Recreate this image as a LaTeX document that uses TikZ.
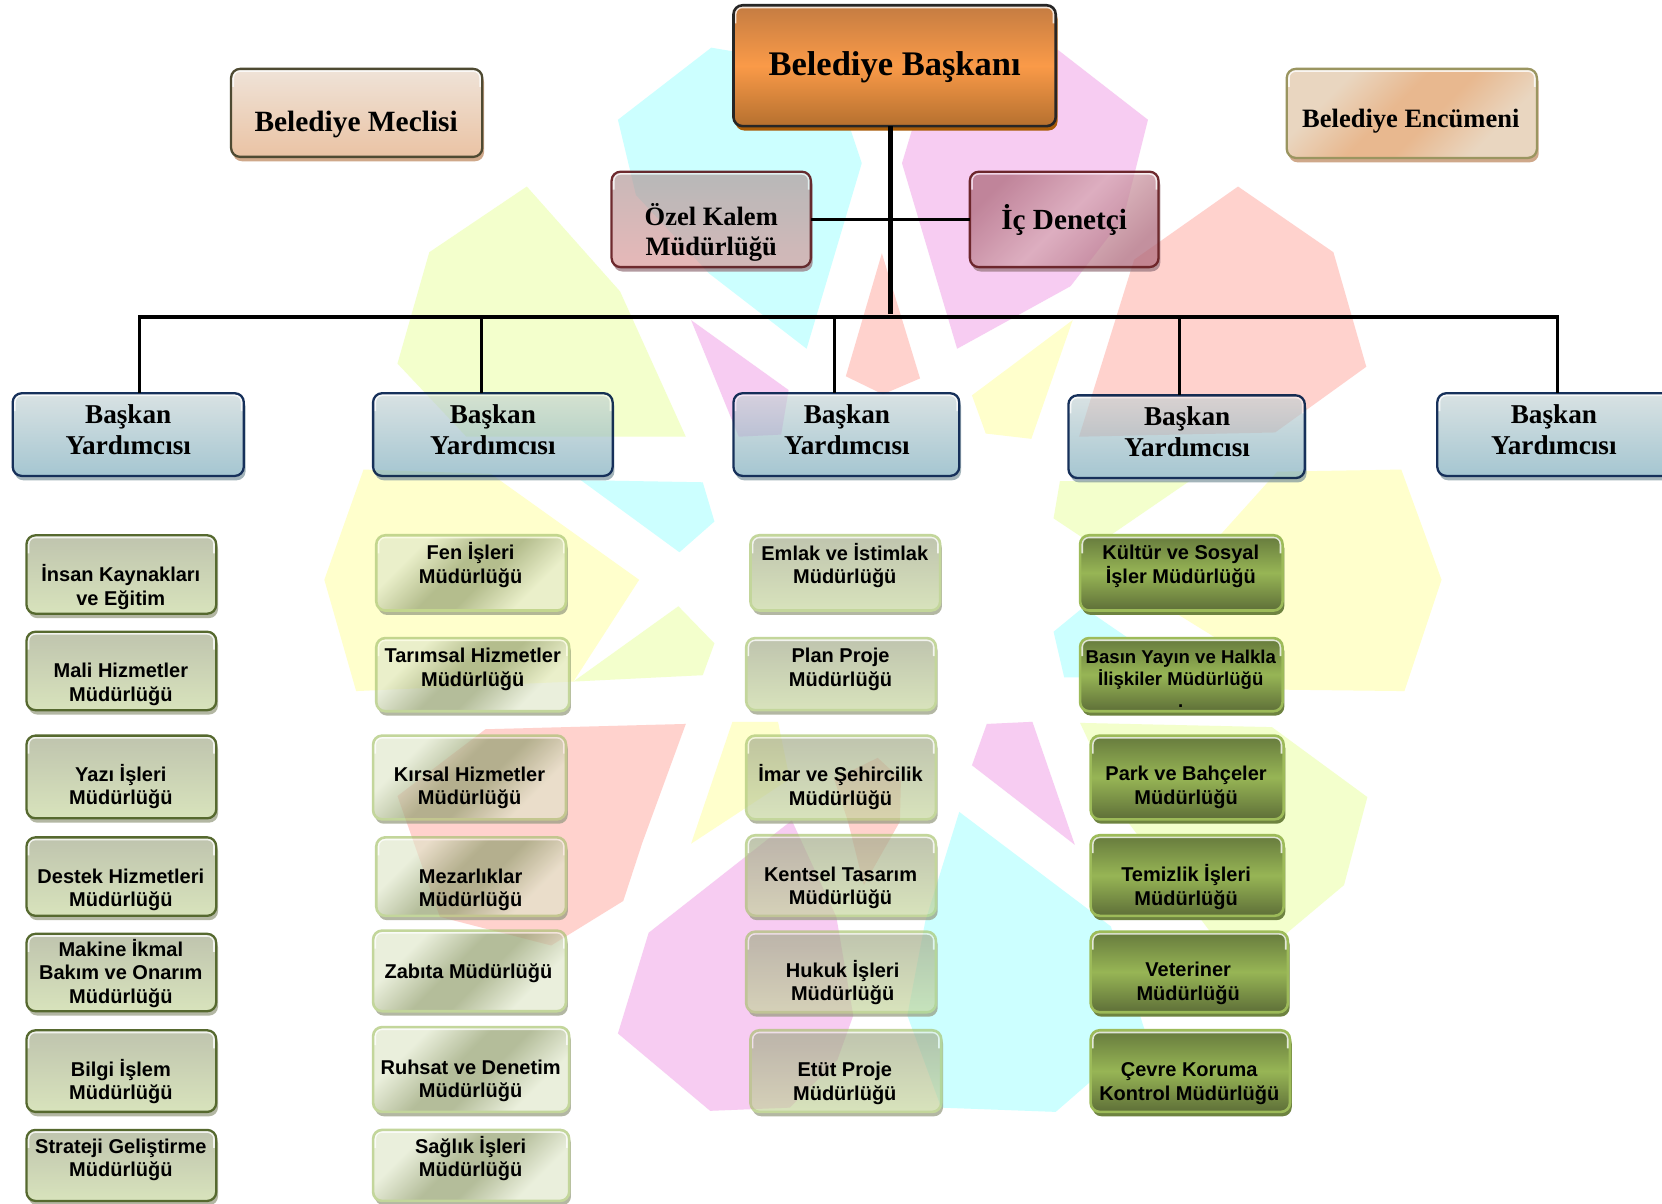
\documentclass[tikz,border=0pt]{standalone}
\usepackage{fontspec}
\setmainfont{Liberation Serif}
\setsansfont{Liberation Sans}
\usetikzlibrary{shadows}
\definecolor{bgcyan}{HTML}{CCFFFF}
\definecolor{bgpink}{HTML}{F8CCF3}
\definecolor{bgred}{HTML}{FFD2CE}
\definecolor{bgyel}{HTML}{FFFFCC}
\definecolor{bglime}{HTML}{F4FFCC}
\definecolor{cBA}{HTML}{C47C42}\definecolor{cBB}{HTML}{FA9A48}\definecolor{cBC}{HTML}{B5702F}\definecolor{cBS}{HTML}{A85C08}
\definecolor{cMD}{HTML}{4E4A32}\definecolor{cMA}{HTML}{EFE3D8}\definecolor{cMB}{HTML}{EAC3A4}\definecolor{cMS}{HTML}{CFA88A}
\definecolor{cED}{HTML}{9A9560}\definecolor{cEA}{HTML}{E9D6C0}\definecolor{cEB}{HTML}{E8B88F}
\definecolor{cKD}{HTML}{6E2A2E}\definecolor{cKA}{HTML}{C8B8B8}\definecolor{cKB}{HTML}{E6B8B8}\definecolor{cKS}{HTML}{B39AA0}
\definecolor{cDA}{HTML}{E0BEC4}\definecolor{cDB}{HTML}{C3909E}
\definecolor{cYD}{HTML}{16305A}\definecolor{cYA}{HTML}{D9E2E3}\definecolor{cYB}{HTML}{A5C6D1}\definecolor{cYS}{HTML}{A3B4BA}
\definecolor{cOD}{HTML}{56692F}\definecolor{cOA}{HTML}{BFC4AE}\definecolor{cOB}{HTML}{D8E3BC}\definecolor{cOS}{HTML}{B3B7A3}
\definecolor{cPD}{HTML}{C3D69B}
\definecolor{cGA}{HTML}{EAEFDC}\definecolor{cGB}{HTML}{B4BD9A}
\definecolor{cVD}{HTML}{9DBB59}\definecolor{cVA}{HTML}{667A3D}\definecolor{cVB}{HTML}{97B555}\definecolor{cVC}{HTML}{5E6F38}\definecolor{cVS}{HTML}{6E8340}
\pgfdeclareverticalshading{diagGreen}{100bp}{color(0bp)=(cGA); color(29bp)=(cGA); color(45bp)=(cGB); color(55bp)=(cGB); color(71bp)=(cGA); color(100bp)=(cGA)}
\pgfdeclareverticalshading{diagPeach}{100bp}{color(0bp)=(cEA); color(29bp)=(cEA); color(45bp)=(cEB); color(55bp)=(cEB); color(71bp)=(cEA); color(100bp)=(cEA)}
\tikzset{
  bgshape/.style={draw=none},
  busline/.style={line width=3.7pt,black},
  dropline/.style={line width=3pt,black},
  trunkline/.style={line width=4.4pt,black},
  hilite/.style={path picture={
    \draw[white,line width=2.8pt,opacity=.8,rounded corners=7pt]
      ([xshift=1.6pt,yshift=-18pt]path picture bounding box.north west)
      -- ([xshift=1.6pt,yshift=-1.6pt]path picture bounding box.north west)
      -- ([xshift=-1.6pt,yshift=-1.6pt]path picture bounding box.north east)
      -- ([xshift=-1.6pt,yshift=-18pt]path picture bounding box.north east);}},
  boxbase/.style={rectangle,rounded corners=9pt,inner sep=0pt,outer sep=0pt,text=black,hilite},
  offset shadow/.style={general shadow={fill=#1,shadow xshift=1.8pt,shadow yshift=-4.4pt}},
  chiefbox/.style={boxbase,line width=2.6pt,draw=black!85,top color=cBA,bottom color=cBC,middle color=cBB,
    offset shadow=cBS,font=\rmfamily\bfseries\fontsize{34.5}{38}\selectfont},
  councilbox/.style={boxbase,line width=2.3pt,draw=cMD,top color=cMA,bottom color=cMB,offset shadow=cMS,
    font=\rmfamily\bfseries\fontsize{29.4}{33}\selectfont},
  encbox/.style={boxbase,line width=2.3pt,draw=cED,shade,shading=diagPeach,shading angle=45,offset shadow=cMS,
    font=\rmfamily\bfseries\fontsize{26.5}{30}\selectfont},
  kalembox/.style={boxbase,line width=2.3pt,draw=cKD,top color=cKA,bottom color=cKB,offset shadow=cKS,
    font=\rmfamily\bfseries\fontsize{26.5}{30.5}\selectfont},
  denetbox/.style={boxbase,line width=2.3pt,draw=cKD,top color=cDB,bottom color=cDB,middle color=cDA,shading angle=45,offset shadow=cKS,
    font=\rmfamily\bfseries\fontsize{29.2}{34}\selectfont},
  deputybox/.style={boxbase,line width=2.3pt,draw=cYD,top color=cYA,bottom color=cYB,offset shadow=cYS,
    font=\rmfamily\bfseries\fontsize{27.2}{30.7}\selectfont},
  unitfont/.style={font=\sffamily\bfseries\fontsize{20}{23.5}\selectfont},
  oliveedge/.style={boxbase,unitfont,line width=2.3pt,draw=cOD,top color=cOA,bottom color=cOB,offset shadow=cOS},
  paleedge/.style={boxbase,unitfont,line width=2.6pt,draw=cPD,top color=cOA,bottom color=cOB,offset shadow=cOS},
  diagbox/.style={boxbase,unitfont,line width=2.6pt,draw=cPD,shade,shading=diagGreen,shading angle=45,offset shadow=cOS},
  greenbox/.style={boxbase,unitfont,line width=2.6pt,draw=cVD,top color=cVA,bottom color=cVC,middle color=cVB,offset shadow=cVS},
  tightfont/.style={font=\sffamily\bfseries\fontsize{18.6}{21}\selectfont}
}
% name, style, x1, y1, x2, y2, text centre x, text centre y, lines
\newcommand{\bx}[9]{%
  \pgfmathsetmacro{\cxv}{(#3+#5)/2}%
  \pgfmathsetmacro{\cyv}{(#4+#6)/2}%
  \pgfmathsetlengthmacro{\wv}{(#5-#3)*1.05995}%
  \pgfmathsetlengthmacro{\hv}{(#6-#4)*1.05995}%
  \pgfmathsetlengthmacro{\dxv}{2*(#7-(#3+#5)/2)*1.05995}%
  \pgfmathsetlengthmacro{\dyv}{((#3*0+#4+#6)/2-#8)*1.05995}%
  \node[#2,minimum width=\wv,minimum height=\hv] (#1) at (\cxv,\cyv)
    {\raisebox{\dimexpr\dyv-.25em-2.6pt\relax}[0pt][0pt]{\makebox[0pt]{\hspace*{\dxv}\begin{tabular}{@{}c@{}}#9\end{tabular}}}};
}
% #1 is a colour suffix
\newcommand{\bgshapes}[1]{%
\fill[bgshape,fill=bgcyan#1] (671,45)--(583,113)--(600,184)--(669,258)--(761,329)--(813,154)--(803,124)--(790,65)--cycle;
\fill[bgshape,fill=bgpink#1] (998,47)--(1083,113)--(1060,205)--(1010,270)--(903,329)--(851,154)--(860,124)--(880,50)--cycle;
\fill[bgshape,fill=bgred#1] (1168,176)--(1258,238)--(1289,346)--(1203,408)--(1018,412)--(1070,245)--cycle;
\fill[bgshape,fill=bgred#1] (832,239)--(868,357)--(833,372)--(798,355)--cycle;
\fill[bgshape,fill=bgyel#1] (1012,302)--(973,414)--(930,409)--(917,373)--cycle;
\fill[bgshape,fill=bglime#1] (497,176)--(405,238)--(375,343)--(440,412)--(647,412)--(585,275)--cycle;
\fill[bgshape,fill=bgpink#1] (652,302)--(744,368)--(737,410)--(697,412)--cycle;
\fill[bgshape,fill=bgyel#1] (343,443)--(306,547)--(336,652)--(541,643)--(603,547)--(463,447)--cycle;
\fill[bgshape,fill=bglime#1] (640,572)--(674,607)--(663,637)--(541,643)--cycle;
\fill[bgshape,fill=bgcyan#1] (548,453)--(663,455)--(674,492)--(641,521)--cycle;
\fill[bgshape,fill=bgred#1] (458,688)--(647,683)--(606,795)--(588,850)--(520,892)--(415,865)--(375,751)--cycle;
\fill[bgshape,fill=bgyel#1] (691,681)--(734,681)--(745,735)--(652,796)--cycle;
\fill[bgshape,fill=bgred#1] (828,715)--(850,735)--(849,775)--(815,835)--(800,775)--(787,735)--cycle;
\fill[bgshape,fill=bgpink#1] (612,880)--(583,975)--(670,1048)--(745,1045)--(790,1000)--(805,958)--(789,865)--(747,774)--cycle;
\fill[bgshape,fill=bgcyan#1] (905,766)--(1048,874)--(1081,975)--(996,1049)--(888,1045)--(856,958)--(873,869)--cycle;
\fill[bgshape,fill=bgpink#1] (931,683)--(974,681)--(1014,797)--(917,722)--cycle;
\fill[bgshape,fill=bglime#1] (1019,682)--(1200,686)--(1290,752)--(1268,835)--(1212,882)--(1150,890)--(1060,770)--cycle;
\fill[bgshape,fill=bgyel#1] (1205,445)--(1322,443)--(1360,547)--(1325,652)--(1153,650)--(1149,603)--(1107,577)--(1115,545)--cycle;
\fill[bgshape,fill=bglime#1] (1000,454)--(1122,454)--(1033,515)--(994,489)--cycle;
\fill[bgshape,fill=bgcyan#1] (1022,573)--(1120,640)--(1004,639)--(994,596)--cycle;
}
\begin{document}
\begin{tikzpicture}[x=1.05995pt,y=-1.05995pt]
\path[use as bounding box,clip] (0,0) rectangle (1568,1135);
\fill[white] (0,0) rectangle (1568,1135);
% background star shapes: pale layer under the boxes
\bgshapes{!65!white}
% top
\bx{mec}{councilbox}{218}{65}{455}{148}{336}{114}{Belediye Meclisi}
\bx{enc}{encbox}{1214}{65}{1450}{149}{1331}{112}{Belediye Encümeni}
\bx{oze}{kalembox}{577}{162}{765}{252}{671}{218}{Özel Kalem\\Müdürlüğü}
\bx{ice}{denetbox}{915}{162}{1093}{252}{1004}{206}{İç Denetçi}
% deputies
\bx{ya}{deputybox}{12}{371}{230}{449}{121}{405.5}{Başkan\\Yardımcısı}
\bx{yb}{deputybox}{352}{371}{578}{449}{465}{405.5}{Başkan\\Yardımcısı}
\bx{yc}{deputybox}{692}{371}{905}{449}{799}{405.5}{Başkan\\Yardımcısı}
\bx{yd}{deputybox}{1008}{373}{1231}{451}{1120}{407.5}{Başkan\\Yardımcısı}
\bx{ye}{deputybox}{1356}{371}{1590}{449}{1466}{405.5}{Başkan\\Yardımcısı}
% column 1
\bx{a1}{oliveedge}{25}{505}{204}{579}{114}{553}{İnsan Kaynakları\\ve Eğitim}
\bx{a2}{oliveedge}{25}{596}{204}{670}{114}{644}{Mali Hizmetler\\Müdürlüğü}
\bx{a3}{oliveedge}{25}{694}{204}{772}{114}{741}{Yazı İşleri\\Müdürlüğü}
\bx{a4}{oliveedge}{25}{790}{204}{864}{114}{837.5}{Destek Hizmetleri\\Müdürlüğü}
\bx{a5}{oliveedge}{25}{881}{204}{954}{114}{917.5}{Makine İkmal\\Bakım ve Onarım\\Müdürlüğü}
\bx{a6}{oliveedge}{25}{972}{204}{1049}{114}{1019.5}{Bilgi İşlem\\Müdürlüğü}
\bx{a7}{oliveedge}{25}{1066}{204}{1133}{114}{1092.5}{Strateji Geliştirme\\Müdürlüğü}
% column 2
\bx{b1}{diagbox}{355}{505}{534}{576}{444}{532}{Fen İşleri\\Müdürlüğü}
\bx{b2}{diagbox}{355}{602}{537}{671}{446}{629.5}{Tarımsal Hizmetler\\Müdürlüğü}
\bx{b3}{diagbox}{352}{694}{534}{773}{443}{741.5}{Kırsal Hizmetler\\Müdürlüğü}
\bx{b4}{diagbox}{355}{790}{534}{864}{444}{837.5}{Mezarlıklar\\Müdürlüğü}
\bx{b5}{diagbox}{352}{878}{534}{954}{442}{916}{Zabıta Müdürlüğü}
\bx{b6}{diagbox}{352}{969}{537}{1049}{444}{1018}{Ruhsat ve Denetim\\Müdürlüğü}
\bx{b7}{diagbox}{352}{1066}{537}{1133}{444}{1092}{Sağlık İşleri\\Müdürlüğü}
% column 3
\bx{c1}{paleedge}{708}{505}{887}{576}{797}{532.5}{Emlak ve İstimlak\\Müdürlüğü}
\bx{c2}{paleedge}{704}{602}{883}{670}{793}{629.5}{Plan Proje\\Müdürlüğü}
\bx{c3}{paleedge}{704}{694}{883}{773}{793}{741.5}{İmar ve Şehircilik\\Müdürlüğü}
\bx{c4}{paleedge}{704}{788}{883}{864}{793}{836}{Kentsel Tasarım\\Müdürlüğü}
\bx{c5}{paleedge}{704}{879}{883}{955}{795}{926}{Hukuk İşleri\\Müdürlüğü}
\bx{c6}{paleedge}{708}{972}{888}{1049}{797}{1020}{Etüt Proje\\Müdürlüğü}
% the same star shapes tint what lies over them
\begin{scope}[blend mode=multiply,fill opacity=.4]
\bgshapes{}
\end{scope}
% opaque boxes
\bx{bas}{chiefbox}{692}{5}{996}{119}{844}{59}{Belediye Başkanı}
\bx{d1}{greenbox}{1019}{505}{1210}{576}{1114}{532.5}{Kültür ve Sosyal\\İşler Müdürlüğü}
\bx{d2}{greenbox,tightfont}{1019}{602}{1210}{671}{1114}{640}{Basın Yayın ve Halkla\\İlişkiler Müdürlüğü\\[1pt].}
\bx{d3}{greenbox}{1029}{694}{1211}{773}{1119}{741}{Park ve Bahçeler\\Müdürlüğü}
\bx{d4}{greenbox}{1029}{788}{1211}{864}{1119}{836}{Temizlik İşleri\\Müdürlüğü}
\bx{d5}{greenbox}{1029}{879}{1215}{955}{1121}{926}{Veteriner\\Müdürlüğü}
\bx{d6}{greenbox}{1029}{972}{1217}{1049}{1122}{1020}{Çevre Koruma\\Kontrol Müdürlüğü}
% connectors
\coordinate (busL) at (132,299);
\coordinate (busR) at (1469,299);
\coordinate (busT) at (840,296);
\coordinate (drB) at (454,299);
\coordinate (drC) at (787,299);
\coordinate (drD) at (1113,299);
\draw[trunkline] (busT |- bas.south) -- (busT);
\draw[busline] (oze.east) -- (ice.west);
\draw[busline,line cap=rect] (busL) -- (busR);
\draw[dropline] (busL) -- (busL |- ya.north);
\draw[dropline] (drB) -- (drB |- yb.north);
\draw[dropline] (drC) -- (drC |- yc.north);
\draw[dropline] (drD) -- (drD |- yd.north);
\draw[dropline] (busR) -- (busR |- ye.north);
\end{tikzpicture}
\end{document}
